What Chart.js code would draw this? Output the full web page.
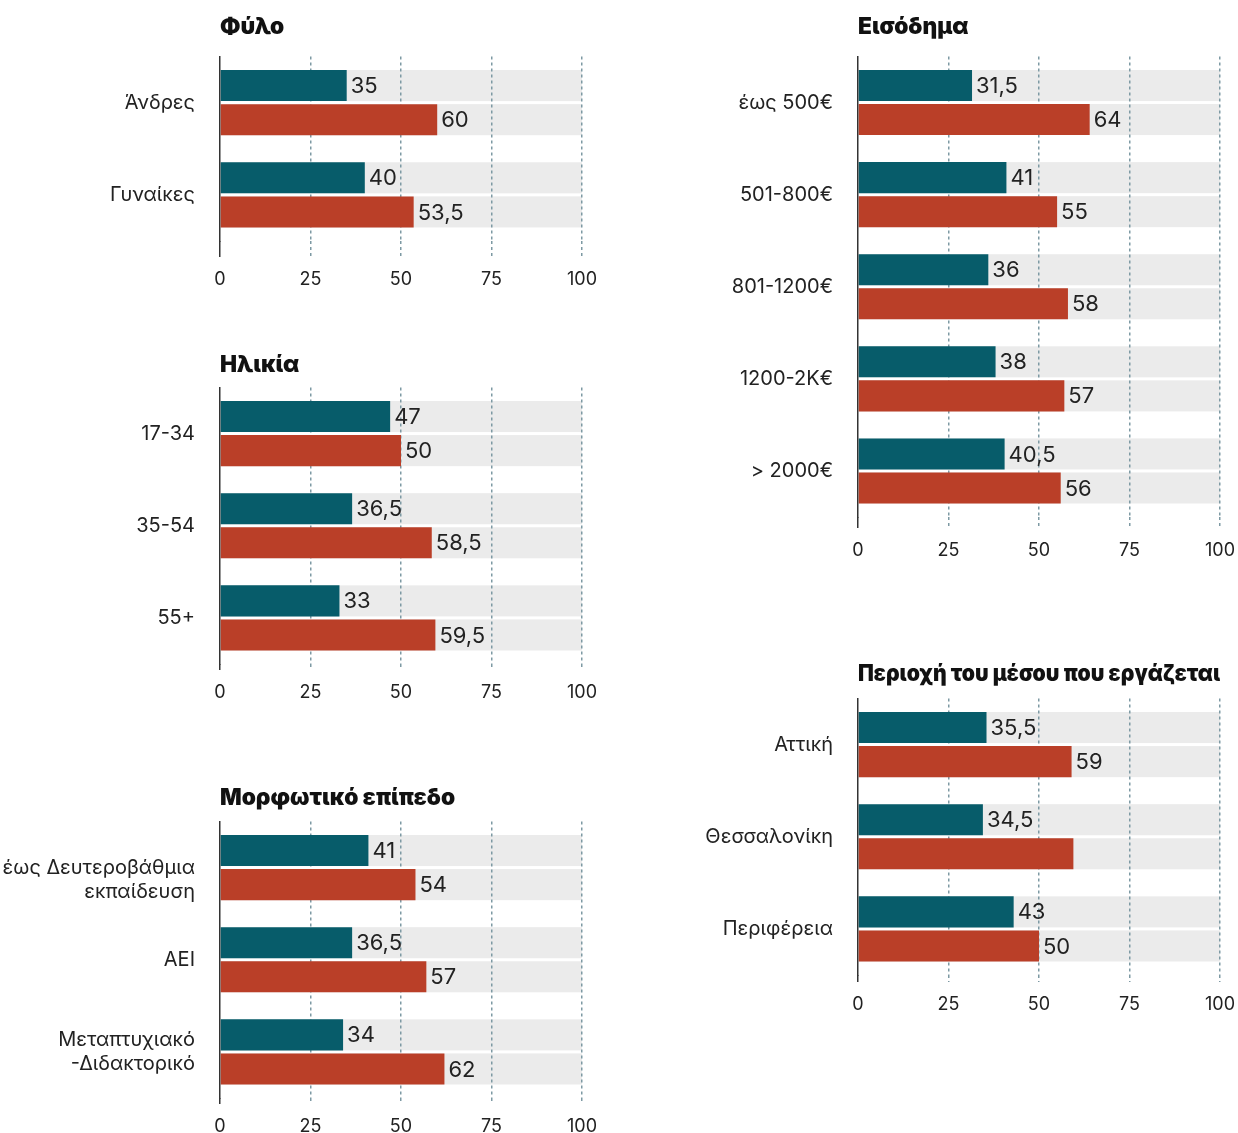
<!DOCTYPE html>
<html lang="el">
<head>
<meta charset="UTF-8">
<title>Έρευνα - ανά κατηγορία</title>
<script src="https://cdn.jsdelivr.net/npm/chart.js"></script>
<style>
  body { margin: 0; background: #fff; }
  #wrap { position: relative; width: 1238px; height: 1133px; overflow: hidden; }
  canvas { position: absolute; }
</style>
</head>
<body>
<div id="wrap">
  <canvas id="sex"></canvas>
  <canvas id="age"></canvas>
  <canvas id="edu"></canvas>
  <canvas id="inc"></canvas>
  <canvas id="reg"></canvas>
</div>
<script>
// data
const sexLabels = ['Άνδρες', 'Γυναίκες'];
const sexTeal = [35, 40];
const sexRed = [60, 53.5];

const ageLabels = ['17-34', '35-54', '55+'];
const ageTeal = [47, 36.5, 33];
const ageRed = [50, 58.5, 59.5];

const eduLabels = [['', 'έως Δευτεροβάθμια', 'εκπαίδευση'], 'ΑΕΙ', ['Μεταπτυχιακό', '-Διδακτορικό']];
const eduTeal = [41, 36.5, 34];
const eduRed = [54, 57, 62];

const incLabels = ['έως 500€', '501-800€', '801-1200€', '1200-2K€', '> 2000€'];
const incTeal = [31.5, 41, 36, 38, 40.5];
const incRed = [64, 55, 58, 57, 56];

const regLabels = ['Αττική', 'Θεσσαλονίκη', 'Περιφέρεια'];
const regTeal = [35.5, 34.5, 43];
const regRed = [59, 59.5, 50];
const regRedNoLabel = [1];   // no value printed on this bar in the original

const xTicks = [0, 25, 50, 75, 100];

const TEAL = '#075c6a', RED = '#ba3f28', GRAY = '#ebebeb', GRID = '#7d99a3', INK = '#222';
const FONT = 'Inter, "Noto Sans", sans-serif';
const BAND = 92;
const TITLE_SIZE = 22.7, TITLE_LH = TITLE_SIZE * 1.2;

// gray track behind each bar, under the grid lines
const rowBg = {
  id: 'rowBg',
  beforeDraw(chart) {
    const ctx = chart.ctx, x = chart.scales.x;
    const x0 = x.getPixelForValue(xTicks[0]), x1 = x.getPixelForValue(xTicks[xTicks.length - 1]);
    ctx.save();
    ctx.fillStyle = GRAY;
    chart.data.datasets.forEach((ds, i) => {
      chart.getDatasetMeta(i).data.forEach(bar => {
        ctx.fillRect(x0, bar.y - bar.height / 2, x1 - x0, bar.height);
      });
    });
    ctx.restore();
  }
};

const valueLabels = {
  id: 'valueLabels',
  afterDatasetsDraw(chart) {
    const ctx = chart.ctx;
    ctx.save();
    ctx.font = '22px ' + FONT;
    ctx.fillStyle = INK;
    ctx.textBaseline = 'middle';
    chart.data.datasets.forEach((ds, i) => {
      chart.getDatasetMeta(i).data.forEach((bar, j) => {
        if ((ds.noLabel || []).includes(j)) return;
        ctx.fillText(String(ds.data[j]).replace('.', ','), bar.x + 4, bar.y + 1);
      });
    });
    ctx.restore();
  }
};

function panel(id, p) {
  const colLeft = p.col === 0 ? 0 : 619;
  const chartLeft = p.col === 0 ? 220 : 858;
  const chartRight = p.col === 0 ? 582 : 1220;
  const width = chartRight - colLeft + 37;
  const canvasTop = Math.round(p.titleY + 2 - TITLE_LH / 2);
  const titlePad = p.chartTop - canvasTop - TITLE_LH;
  const axisH = p.tickLen + 34;
  const h = (p.chartTop - canvasTop) + p.labels.length * BAND + axisH;

  const cv = document.getElementById(id);
  cv.width = width;
  cv.height = Math.round(h);
  cv.style.left = colLeft + 'px';
  cv.style.top = canvasTop + 'px';

  new Chart(cv, {
    type: 'bar',
    data: {
      labels: p.labels,
      datasets: [
        { data: p.teal, backgroundColor: TEAL },
        { data: p.red, backgroundColor: RED, noLabel: p.noLabel || [] }
      ]
    },
    options: {
      indexAxis: 'y',
      responsive: false,
      animation: false,
      events: [],
      categoryPercentage: 68 / 92,
      barPercentage: 31 / 34,
      layout: { padding: { left: 0, right: width - (chartRight - colLeft), top: 0, bottom: 0 } },
      plugins: {
        legend: { display: false },
        tooltip: { enabled: false },
        title: {
          display: true, text: p.title, align: 'start', fullSize: false,
          color: '#111', font: { family: FONT, size: TITLE_SIZE, weight: '900', lineHeight: 1.2 },
          padding: { top: 0, bottom: titlePad }
        }
      },
      scales: {
        x: {
          type: 'linear', min: 0, max: 100, position: 'bottom',
          afterBuildTicks: s => { s.ticks = xTicks.map(v => ({ value: v })); },
          afterFit: s => { s.height = axisH; },
          border: { display: false, dash: [3, 3] },
          grid: {
            color: c => (c.tick && c.tick.value === 0) ? 'rgba(0,0,0,0)' : GRID,
            lineWidth: 1.5,
            drawTicks: true,
            tickLength: p.tickLen,
            tickWidth: 1.5,
            tickColor: c => (c.tick && c.tick.value === 0) ? '#333' : GRID,
            tickBorderDash: c => (c.tick && c.tick.value === 0) ? [] : [3, 3]
          },
          ticks: { color: INK, font: { family: FONT, size: 18 }, padding: 12, maxRotation: 0, autoSkip: false }
        },
        y: {
          afterFit: s => { s.width = chartLeft - colLeft; s.paddingTop = 0; s.paddingBottom = 0; },
          grid: { display: false, drawTicks: false },
          border: { display: true, color: '#333', width: 1.5 },
          ticks: { color: INK, font: { family: FONT, size: 20, lineHeight: 1.2 }, padding: 25 }
        }
      }
    },
    plugins: [rowBg, valueLabels]
  });
}

panel('sex', { col: 0, title: 'Φύλο', labels: sexLabels, teal: sexTeal, red: sexRed, titleY: 26, chartTop: 56.5, tickLen: 16 });
panel('age', { col: 0, title: 'Ηλικία', labels: ageLabels, teal: ageTeal, red: ageRed, titleY: 364, chartTop: 387.5, tickLen: 6 });
panel('edu', { col: 0, title: 'Μορφωτικό επίπεδο', labels: eduLabels, teal: eduTeal, red: eduRed, titleY: 797, chartTop: 821.5, tickLen: 6 });
panel('inc', { col: 1, title: 'Εισόδημα', labels: incLabels, teal: incTeal, red: incRed, titleY: 26, chartTop: 56.5, tickLen: 11 });
panel('reg', { col: 1, title: 'Περιοχή του μέσου που εργάζεται', labels: regLabels, teal: regTeal, red: regRed, noLabel: regRedNoLabel, titleY: 673, chartTop: 698.5, tickLen: 7 });
</script>
</body>
</html>
